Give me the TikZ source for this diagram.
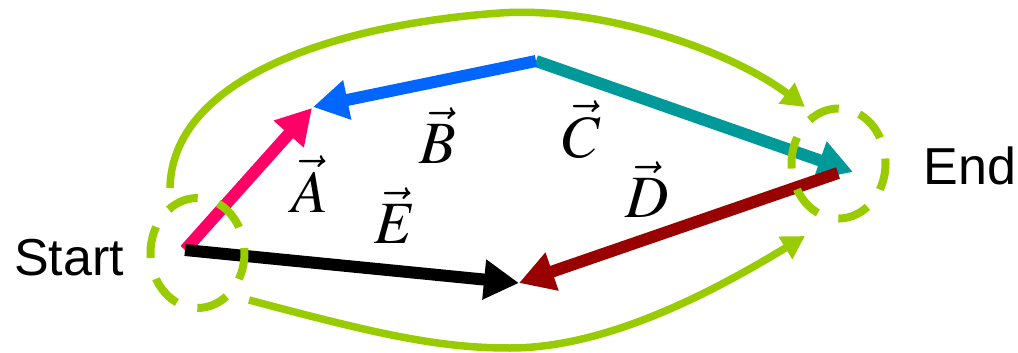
\documentclass[tikz,border=0pt]{standalone}
\usepackage{mathptmx}
\usepackage[no-math]{fontspec}
\newfontfamily\fonteSans{Liberation Sans}
\usetikzlibrary{arrows.meta}
\definecolor{verdeLima}{RGB}{153,204,0}
\definecolor{rosa}{RGB}{255,0,102}
\definecolor{azul}{RGB}{0,102,255}
\definecolor{ciano}{RGB}{0,153,153}
\definecolor{vinho}{RGB}{153,0,0}
\tikzset{
    vetor/.style={
        line width=12pt,
        -{Triangle[length=35pt,width=38pt]}
    },
    caminho/.style={
        line width=7.5pt,
        draw=verdeLima,
        -{Triangle[length=23pt,width=25pt]}
    },
    anel/.style={
        line width=8pt,
        draw=verdeLima,
        dash pattern=on 32pt off 21.5pt,
        dash phase=27pt
    },
    rotulo/.style={font=\fontsize{60}{60}\selectfont, anchor=base, inner sep=0pt},
    extremo/.style={font=\fonteSans\fontsize{52}{52}\selectfont, inner sep=0pt}
}

\begin{document}
\begin{tikzpicture}[x=1pt, y=-1pt]
    \useasboundingbox (0,0) rectangle (1018,353);
    % pontos dos vetores
    \coordinate (inicio) at (185,250);
    \coordinate (topo) at (536,61);
    \coordinate (pontaA) at (312,108);
    \coordinate (pontaB) at (313,107);
    \coordinate (pontaC) at (853,172);
    \coordinate (origemD) at (838,173);
    \coordinate (pontaE) at (519,283);
    \coordinate (anelInicio) at (197.5,253);
    \coordinate (anelFim) at (838.5,163.5);
    \coordinate (saidaSup) at (170,188);
    \coordinate (chegadaSup) at (805,107);
    \coordinate (saidaInf) at (249,300);
    \coordinate (chegadaInf) at (805,236);

    % caminhos alternativos
    \draw[caminho] (saidaSup) .. controls (172,80) and (330,25) .. (500,13)
        .. controls (600,6) and (730,50) .. (chegadaSup);
    \draw[caminho] (saidaInf) .. controls (380,335) and (440,348) .. (510,348)
        .. controls (600,348) and (700,300) .. (chegadaInf);

    % vetores
    \draw[vetor, ciano] (topo) -- (pontaC);
    \draw[vetor, azul] (topo) -- (pontaB);
    \draw[vetor, rosa] (inicio) -- (pontaA);
    \draw[vetor, black] (inicio) -- (pontaE);
    \draw[vetor, vinho] (origemD) -- (pontaE);

    \draw[anel] (anelInicio) ellipse [x radius=47pt, y radius=55pt];
    \draw[anel] (anelFim) ellipse [x radius=47pt, y radius=55pt];

    \node[rotulo] (rotA) at (310,212) {$\vec{A}$};
    \node[rotulo] (rotB) at (438,163) {$\vec{B}$};
    \node[rotulo] (rotC) at (582,157) {$\vec{C}$};
    \node[rotulo] (rotD) at (647,217) {$\vec{D}$};
    \node[rotulo] (rotE) at (395,243) {$\vec{E}$};

    \node[extremo] (partida) at (69,258) {Start};
    \node[extremo] (chegada) at (970,166) {End};
\end{tikzpicture}
\end{document}
